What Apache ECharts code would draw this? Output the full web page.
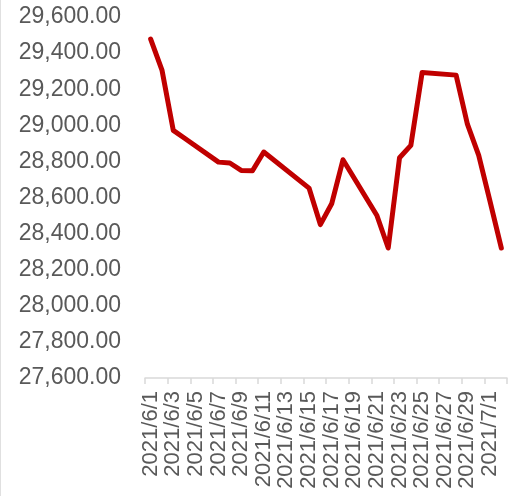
<!DOCTYPE html>
<html>
<head>
<meta charset="utf-8">
<script src="https://cdn.jsdelivr.net/npm/echarts@6/dist/echarts.min.js"></script>
<style>html,body{margin:0;padding:0;background:#fff;}#c{width:517px;height:496px;}</style>
</head>
<body>
<div id="c"></div>
<script>
var categories = ['2021/6/1','2021/6/2','2021/6/3','2021/6/4','2021/6/5','2021/6/6','2021/6/7','2021/6/8','2021/6/9','2021/6/10',
  '2021/6/11','2021/6/12','2021/6/13','2021/6/14','2021/6/15','2021/6/16','2021/6/17','2021/6/18','2021/6/19','2021/6/20',
  '2021/6/21','2021/6/22','2021/6/23','2021/6/24','2021/6/25','2021/6/26','2021/6/27','2021/6/28','2021/6/29','2021/6/30',
  '2021/7/1','2021/7/2'];
var values = [29478,29306,28972,28928,null,null,28796,28791,28750,28748,
  28852,null,null,null,28652,28450,28565,28809,null,null,
  28500,28320,28820,28889,29293,null,null,29278,29006,28833,
  28578,28320];
var yMin = 27600, yMax = 29600, yStep = 200;

var chart = echarts.init(document.getElementById('c'));
chart.setOption({
  animation: false,
  backgroundColor: '#ffffff',
  grid: { left: 145, right: 10, top: 17, bottom: 118, containLabel: false },
  xAxis: {
    type: 'category',
    data: categories,
    boundaryGap: true,
    axisLine: { lineStyle: { color: '#d9d9d9', width: 1.5 } },
    axisTick: { show: true, interval: 1, length: 6, lineStyle: { color: '#d9d9d9', width: 1.5 } },
    axisLabel: {
      interval: 1,
      rotate: 90, margin: 13, color: '#595959', fontSize: 22,
      fontFamily: 'Liberation Sans, Arial, sans-serif'
    },
    splitLine: { show: false }
  },
  yAxis: {
    type: 'value',
    min: yMin, max: yMax, interval: yStep,
    axisLine: { show: false },
    axisTick: { show: false },
    splitLine: { show: false },
    axisLabel: {
      margin: 24, color: '#595959', fontSize: 23, fontFamily: 'Liberation Sans, Arial, sans-serif',
      formatter: function (v) { return v.toLocaleString('en-US', { minimumFractionDigits: 2, maximumFractionDigits: 2 }); }
    }
  },
  graphic: [{ type: 'line', shape: { x1: 0.5, y1: 0, x2: 0.5, y2: 496 }, style: { stroke: '#e0e0e0', lineWidth: 1 } }],
  series: [{
    type: 'line',
    data: values,
    connectNulls: true,
    showSymbol: false,
    symbol: 'none',
    lineStyle: { color: '#C00000', width: 5, join: 'round', cap: 'round' }
  }]
});
</script>
</body>
</html>
